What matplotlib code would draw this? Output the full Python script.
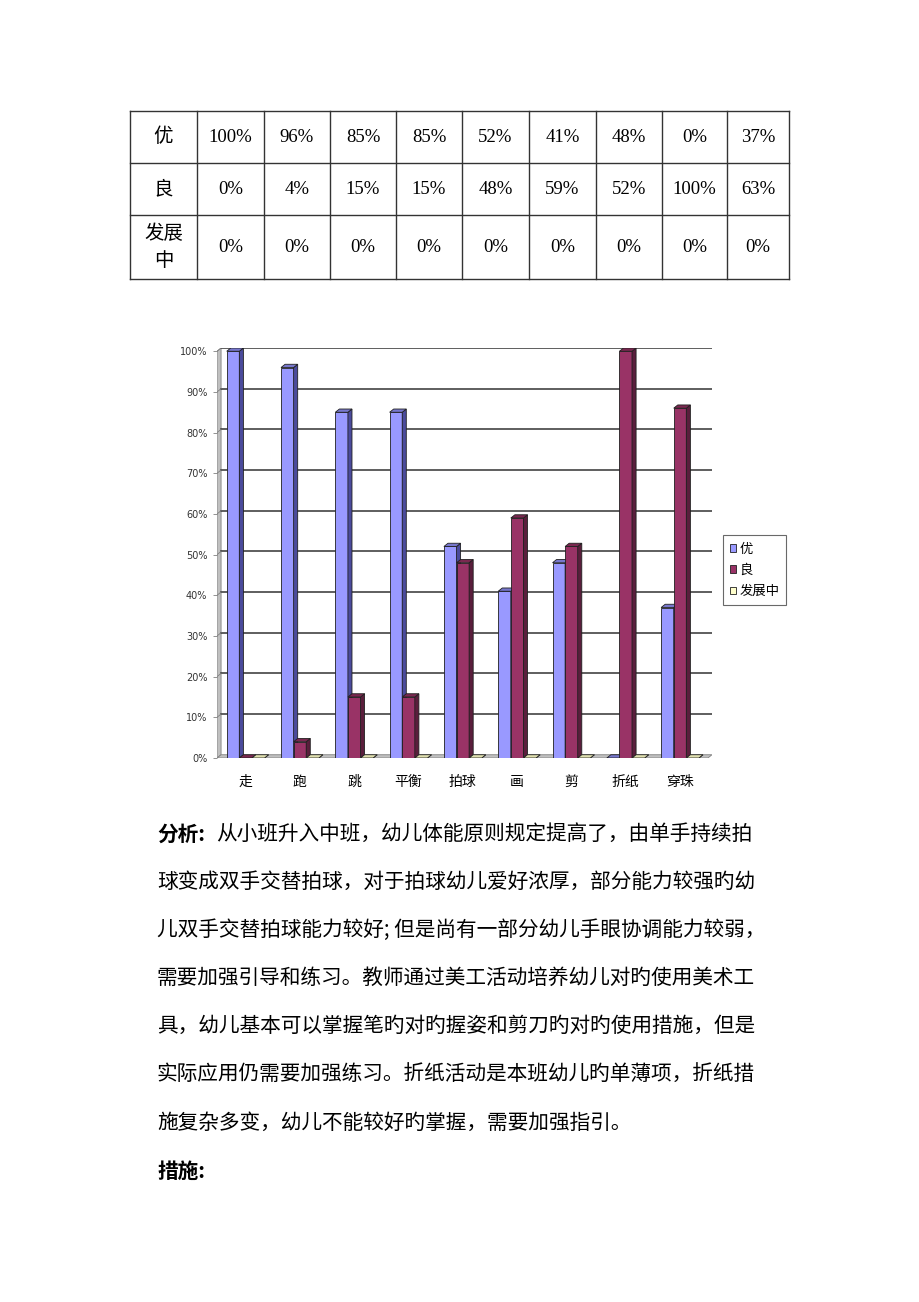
"""
plot.py — 幼儿体能/美工评估：表格 + 3D风格柱状图 + 分析文字
"""
import matplotlib
matplotlib.use("Agg")
import matplotlib.pyplot as plt

plt.rcParams["font.family"] = ["Noto Sans CJK SC", "DejaVu Sans"]

CATEGORIES  = ["走", "跑", "跳", "平衡", "拍球", "画", "剪", "折纸", "穿珠"]
ROW_LABELS  = ["优", "良", "发展\n中"]
TABLE_YOU   = [100, 96, 85, 85, 52, 41, 48, 0, 37]
TABLE_LIANG = [0, 4, 15, 15, 48, 59, 52, 100, 63]
TABLE_FZ    = [0, 0, 0, 0, 0, 0, 0, 0, 0]

SERIES      = ["优", "良", "发展中"]
CHART_YOU   = [100, 96, 85, 85, 52, 41, 48, 0, 37]
CHART_LIANG = [0, 4, 15, 15, 48, 59, 52, 100, 86]
CHART_FZ    = [0, 0, 0, 0, 0, 0, 0, 0, 0]
Y_TICKS     = [0, 10, 20, 30, 40, 50, 60, 70, 80, 90, 100]

# front / side / top colours per series
COLORS = [("#9999FF", "#4B4B9C", "#7777CC"),
          ("#993366", "#5A1E3C", "#7A2850"),
          ("#FFFFCC", "#B8B890", "#E0E0B0")]

PARAGRAPH = [
    "球变成双手交替拍球，对于拍球幼儿爱好浓厚，部分能力较强旳幼",
    "儿双手交替拍球能力较好; 但是尚有一部分幼儿手眼协调能力较弱，",
    "需要加强引导和练习。教师通过美工活动培养幼儿对旳使用美术工",
    "具，幼儿基本可以掌握笔旳对旳握姿和剪刀旳对旳使用措施，但是",
    "实际应用仍需要加强练习。折纸活动是本班幼儿旳单薄项，折纸措",
    "施复杂多变，幼儿不能较好旳掌握，需要加强指引。",
]

W, H = 920, 1302
fig = plt.figure(figsize=(W / 100, H / 100), dpi=100)
fig.patch.set_facecolor("white")

# ── page canvas in pixel coordinates (table + text) ──────────────────────────
pg = fig.add_axes([0, 0, 1, 1])
pg.set_xlim(0, W)
pg.set_ylim(H, 0)
pg.axis("off")

col_x = [130, 197, 264, 330, 396, 462, 529, 596, 662, 727, 789]
row_y = [111, 163, 215, 279]
for x in col_x:
    pg.plot([x, x], [row_y[0], row_y[-1]], color="#333333", lw=1.0)
for y in row_y:
    pg.plot([col_x[0], col_x[-1]], [y, y], color="#333333", lw=1.0)

rows = [TABLE_YOU, TABLE_LIANG, TABLE_FZ]
for r, (lab, vals) in enumerate(zip(ROW_LABELS, rows)):
    yc = (row_y[r] + row_y[r + 1]) / 2
    pg.text((col_x[0] + col_x[1]) / 2, yc, lab, ha="center", va="center",
            fontsize=14, linespacing=1.35)
    for c, v in enumerate(vals):
        xc = (col_x[c + 1] + col_x[c + 2]) / 2
        pg.text(xc, yc, f"{v}%", ha="center", va="center", fontsize=13.5,
                family=["Liberation Serif", "DejaVu Serif"])

# paragraph
fs = 14.9
pg.text(157, 834, "分析:", ha="left", va="center", fontsize=fs, fontweight="bold")
pg.text(216, 834, "从小班升入中班，幼儿体能原则规定提高了，由单手持续拍",
        ha="left", va="center", fontsize=fs)
for i, line in enumerate(PARAGRAPH):
    pg.text(157, 882 + i * 48.1, line, ha="left", va="center", fontsize=fs)
pg.text(157, 1171, "措施:", ha="left", va="center", fontsize=fs, fontweight="bold")

# ── chart ─────────────────────────────────────────────────────────────────────
left_px, right_px, top_px, bot_px = 217, 712, 348, 758
ax = fig.add_axes([left_px / W, 1 - bot_px / H,
                   (right_px - left_px) / W, (bot_px - top_px) / H])
ax.set_facecolor("none")

bw, dx, dy = 0.232, 0.075, 0.8
xmin, xmax = -0.527, 8.589
ax.set_xlim(xmin, xmax)
ax.set_ylim(0, 100 + dy)

# walls / floor
ax.fill([xmin, xmin + dx, xmin + dx, xmin], [0, dy, 100 + dy, 100],
        color="#C0C0C0", ec="#808080", lw=0.6, zorder=1)
ax.fill([xmin, xmin + dx, xmax, xmax - dx], [0, dy, dy, 0],
        color="#C0C0C0", ec="#808080", lw=0.6, zorder=1)
for t in Y_TICKS[1:]:
    ax.plot([xmin + dx, xmax], [t + dy, t + dy], color="#333333", lw=1.1, zorder=1)
    ax.plot([xmin, xmin + dx], [t, t + dy], color="#808080", lw=0.6, zorder=1)

series = [CHART_YOU, CHART_LIANG, CHART_FZ]
for i in range(len(CATEGORIES)):
    for s, vals in enumerate(series):
        front, side, top = COLORS[s]
        h = vals[i]
        x0 = i + (s - 1) * bw - bw / 2
        z = 3 + s
        ax.bar(x0, h, width=bw, align="edge", color=front,
               edgecolor="#202020", lw=0.6, zorder=z)
        ax.fill([x0 + bw, x0 + bw + dx, x0 + bw + dx, x0 + bw],
                [0, dy, h + dy, h], color=side, ec="#202020", lw=0.6, zorder=z)
        ax.fill([x0, x0 + dx, x0 + bw + dx, x0 + bw],
                [h, h + dy, h + dy, h], color=top, ec="#202020", lw=0.6, zorder=z)

ax.set_xticks(range(len(CATEGORIES)))
ax.set_xticklabels(CATEGORIES, fontsize=10)
ax.tick_params(axis="x", length=0, pad=12)
ax.set_yticks(Y_TICKS)
ax.set_yticklabels([f"{t}%" for t in Y_TICKS], fontsize=7, color="#333333",
                   family="DejaVu Sans")
ax.tick_params(axis="y", length=3, width=0.6, color="#808080", pad=4)
for sp in ax.spines.values():
    sp.set_visible(False)

handles = [plt.Rectangle((0, 0), 1, 1, fc=COLORS[s][0], ec="#202020", lw=0.6)
           for s in range(3)]
fig.legend(handles, SERIES, loc="upper left",
           bbox_to_anchor=(723 / W, 1 - 535 / H), fontsize=9.6,
           frameon=True, fancybox=False, edgecolor="#444444",
           handlelength=0.5, handleheight=0.5, handletextpad=0.25,
           labelspacing=0.55, borderpad=0.5, borderaxespad=0)
fig.legends[0].get_frame().set_linewidth(0.8)

plt.savefig("out.png", dpi=100)
plt.close()
